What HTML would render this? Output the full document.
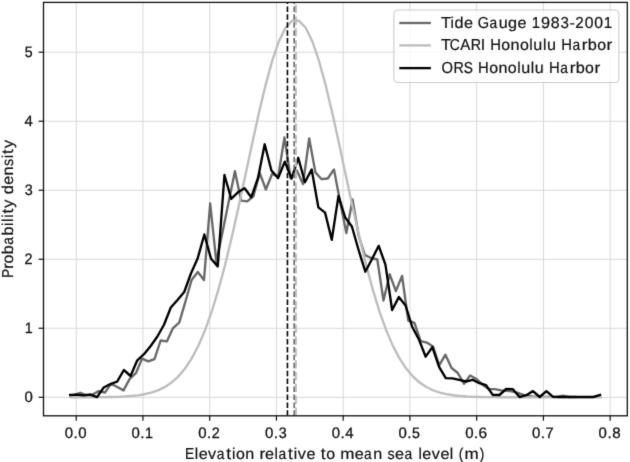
<!DOCTYPE html><html><head><meta charset="utf-8"><style>html,body{margin:0;padding:0;background:#fff;}svg{display:block;filter:grayscale(1);}text{text-rendering:geometricPrecision;font-family:"Liberation Sans",sans-serif;fill:#111;stroke:#111;}</style></head><body>
<svg width="630" height="462" viewBox="0 0 630 462">
<rect x="0" y="0" width="630" height="462" fill="#fff"/>
<defs><filter id="bl" color-interpolation-filters="sRGB" x="0" y="0" width="630" height="462" filterUnits="userSpaceOnUse"><feConvolveMatrix order="3" kernelMatrix="0.01134 0.08382 0.01134 0.08382 0.61935 0.08382 0.01134 0.08382 0.01134" divisor="1" edgeMode="none" preserveAlpha="false"/></filter></defs>
<g filter="url(#bl)">
<defs><clipPath id="ax"><rect x="43.5" y="2.4" width="583.8" height="413.40000000000003"/></clipPath></defs>
<g stroke="#d8d8d8" stroke-width="1" fill="none"><line x1="76.21" y1="2.4" x2="76.21" y2="415.8"/><line x1="142.95" y1="2.4" x2="142.95" y2="415.8"/><line x1="209.70" y1="2.4" x2="209.70" y2="415.8"/><line x1="276.44" y1="2.4" x2="276.44" y2="415.8"/><line x1="343.19" y1="2.4" x2="343.19" y2="415.8"/><line x1="409.93" y1="2.4" x2="409.93" y2="415.8"/><line x1="476.67" y1="2.4" x2="476.67" y2="415.8"/><line x1="543.42" y1="2.4" x2="543.42" y2="415.8"/><line x1="610.16" y1="2.4" x2="610.16" y2="415.8"/><line x1="43.5" y1="397.30" x2="627.3" y2="397.30"/><line x1="43.5" y1="328.28" x2="627.3" y2="328.28"/><line x1="43.5" y1="259.26" x2="627.3" y2="259.26"/><line x1="43.5" y1="190.24" x2="627.3" y2="190.24"/><line x1="43.5" y1="121.22" x2="627.3" y2="121.22"/><line x1="43.5" y1="52.20" x2="627.3" y2="52.20"/></g>
<g clip-path="url(#ax)" fill="none" stroke-linejoin="round" stroke-linecap="square">
<polyline points="73.99,395.00 80.18,392.80 86.37,395.00 92.56,394.50 98.75,391.10 104.94,392.60 111.13,383.70 117.32,387.00 123.51,390.40 129.70,378.90 135.89,373.20 142.08,358.60 148.27,361.40 154.46,359.10 160.65,340.50 166.84,341.40 173.03,328.10 179.22,322.70 185.41,301.60 191.60,280.00 197.79,272.00 203.98,280.00 210.17,203.50 216.36,262.00 222.55,232.00 228.74,201.60 234.93,171.20 241.12,200.60 247.31,201.40 253.50,196.00 259.69,172.90 265.88,189.50 272.07,174.00 278.26,176.30 284.45,137.40 290.64,178.30 296.83,170.50 303.02,184.10 309.21,138.50 315.40,172.40 321.59,179.20 327.78,178.50 333.97,169.40 340.16,202.00 346.35,233.00 352.54,199.50 358.73,236.00 364.92,255.00 371.11,258.00 377.30,259.50 383.49,300.50 389.68,274.20 395.87,291.10 402.06,275.90 408.25,320.60 414.44,322.90 420.63,341.10 426.82,342.60 433.01,346.40 439.20,365.30 445.39,354.70 451.58,368.00 457.77,373.00 463.96,383.70 470.15,375.40 476.34,378.90 482.53,384.70 488.72,389.00 494.91,389.20 501.10,390.40 507.29,390.80 513.48,391.70 519.67,393.50 525.86,395.50 532.05,396.30 538.24,396.60 544.43,396.80 550.62,396.80 556.81,396.80 563.00,395.70 569.19,397.00 575.38,397.00" stroke="#686868" stroke-width="2.35"/>
<polyline points="70.60,397.29 77.31,397.28 84.02,397.27 90.74,397.25 97.45,397.20 104.16,397.13 110.87,397.01 117.58,396.82 124.30,396.52 131.01,396.04 137.72,395.32 144.43,394.23 151.14,392.64 157.86,390.36 164.57,387.15 171.28,382.74 177.99,376.80 184.70,368.98 191.42,358.92 198.13,346.25 204.84,330.69 211.55,312.02 218.26,290.17 224.98,265.24 231.69,237.58 238.40,207.76 245.11,176.59 251.82,145.13 258.54,114.60 265.25,86.34 271.96,61.67 278.67,41.87 285.38,27.97 292.10,20.73 298.81,20.58 305.52,27.51 312.23,41.13 318.94,60.71 325.66,85.18 332.37,113.32 339.08,143.78 345.79,175.22 352.50,206.43 359.22,236.33 365.93,264.10 372.64,289.15 379.35,311.14 386.06,329.95 392.78,345.64 399.49,358.42 406.20,368.59 412.91,376.50 419.62,382.51 426.34,386.98 433.05,390.24 439.76,392.56 446.47,394.18 453.18,395.28 459.90,396.02 466.61,396.50 473.32,396.81 480.03,397.01 486.74,397.13 493.46,397.20 500.17,397.24 506.88,397.27 513.59,397.28 520.30,397.29 527.02,397.30 533.73,397.30 540.44,397.30 547.15,397.30 553.86,397.30 560.58,397.30 567.29,397.30 574.00,397.30 580.71,397.30 587.42,397.30 594.14,397.30 600.85,397.30" stroke="#bdbdbd" stroke-width="2.35"/>
<polyline points="70.20,394.90 76.91,394.60 83.61,395.30 90.32,394.70 97.03,397.10 103.73,387.50 110.44,384.00 117.15,381.60 123.86,370.00 130.56,376.00 137.27,360.30 143.98,354.20 150.68,346.00 157.39,336.50 164.10,324.50 170.81,307.50 177.51,300.00 184.22,292.00 190.93,273.50 197.63,258.50 204.34,234.50 211.05,258.80 217.75,266.40 224.46,175.00 231.17,198.80 237.88,192.30 244.58,188.20 251.29,197.30 258.00,178.00 264.70,144.30 271.41,170.50 278.12,178.10 284.82,161.60 291.53,178.60 298.24,157.80 304.94,182.30 311.65,169.50 318.36,207.30 325.07,212.60 331.77,239.80 338.48,195.90 345.19,217.50 351.89,226.50 358.60,250.00 365.31,271.70 372.01,259.00 378.72,245.90 385.43,264.60 392.14,310.00 398.84,297.10 405.55,305.50 412.26,327.00 418.96,339.50 425.67,356.70 432.38,347.10 439.08,366.80 445.79,378.10 452.50,378.40 459.21,379.80 465.91,381.50 472.62,379.80 479.33,383.20 486.03,385.20 492.74,394.90 499.45,395.00 506.15,389.00 512.86,389.20 519.57,397.00 526.28,395.20 532.98,391.10 539.69,397.00 546.40,391.10 553.10,396.90 559.81,397.00 566.52,397.00 573.23,397.00 579.93,397.00 586.64,397.00 593.35,397.00 600.05,395.00" stroke="#000000" stroke-width="2.35"/>
<line x1="294.2" y1="415.8" x2="294.2" y2="2.4" stroke="#686868" stroke-width="1.6" stroke-linecap="butt" stroke-dasharray="5.5 2.42"/>
<line x1="295.9" y1="415.8" x2="295.9" y2="2.4" stroke="#bdbdbd" stroke-width="2.0" stroke-linecap="butt" stroke-dasharray="8.25 3.6"/>
<line x1="287.45" y1="415.8" x2="287.45" y2="2.4" stroke="#000" stroke-width="1.6" stroke-linecap="butt" stroke-dasharray="5.5 2.42"/>
</g>
<rect x="43.5" y="2.4" width="583.80" height="413.40" fill="none" stroke="#111" stroke-width="1.3"/>
<g stroke="#111" stroke-width="1.2"><line x1="76.21" y1="415.8" x2="76.21" y2="420.7"/><line x1="142.95" y1="415.8" x2="142.95" y2="420.7"/><line x1="209.70" y1="415.8" x2="209.70" y2="420.7"/><line x1="276.44" y1="415.8" x2="276.44" y2="420.7"/><line x1="343.19" y1="415.8" x2="343.19" y2="420.7"/><line x1="409.93" y1="415.8" x2="409.93" y2="420.7"/><line x1="476.67" y1="415.8" x2="476.67" y2="420.7"/><line x1="543.42" y1="415.8" x2="543.42" y2="420.7"/><line x1="610.16" y1="415.8" x2="610.16" y2="420.7"/><line x1="38.6" y1="397.30" x2="43.5" y2="397.30"/><line x1="38.6" y1="328.28" x2="43.5" y2="328.28"/><line x1="38.6" y1="259.26" x2="43.5" y2="259.26"/><line x1="38.6" y1="190.24" x2="43.5" y2="190.24"/><line x1="38.6" y1="121.22" x2="43.5" y2="121.22"/><line x1="38.6" y1="52.20" x2="43.5" y2="52.20"/></g>
<g style="stroke-width:0.28px"><text transform="translate(64.67,438.00) scale(1.054,1.063)" font-size="14.20">0</text><text transform="translate(73.47,438.00) scale(1.082,1.000)" font-size="14.20">.</text><text transform="translate(78.22,438.00) scale(1.054,1.063)" font-size="14.20">0</text></g>
<g style="stroke-width:0.28px"><text transform="translate(131.42,438.00) scale(1.054,1.063)" font-size="14.20">0</text><text transform="translate(140.21,438.00) scale(1.082,1.000)" font-size="14.20">.</text><text transform="translate(145.08,438.00) scale(1.007,1.060)" font-size="14.20">1</text></g>
<g style="stroke-width:0.28px"><text transform="translate(198.16,438.00) scale(1.054,1.063)" font-size="14.20">0</text><text transform="translate(206.96,438.00) scale(1.082,1.000)" font-size="14.20">.</text><text transform="translate(211.67,438.00) scale(1.016,1.063)" font-size="14.20">2</text></g>
<g style="stroke-width:0.28px"><text transform="translate(264.90,438.00) scale(1.054,1.063)" font-size="14.20">0</text><text transform="translate(273.70,438.00) scale(1.082,1.000)" font-size="14.20">.</text><text transform="translate(278.64,438.00) scale(1.012,1.063)" font-size="14.20">3</text></g>
<g style="stroke-width:0.28px"><text transform="translate(331.65,438.00) scale(1.054,1.063)" font-size="14.20">0</text><text transform="translate(340.45,438.00) scale(1.082,1.000)" font-size="14.20">.</text><text transform="translate(345.20,438.00) scale(1.054,1.060)" font-size="14.20">4</text></g>
<g style="stroke-width:0.28px"><text transform="translate(398.39,438.00) scale(1.054,1.063)" font-size="14.20">0</text><text transform="translate(407.19,438.00) scale(1.082,1.000)" font-size="14.20">.</text><text transform="translate(412.12,438.00) scale(0.995,1.060)" font-size="14.20">5</text></g>
<g style="stroke-width:0.28px"><text transform="translate(465.14,438.00) scale(1.054,1.063)" font-size="14.20">0</text><text transform="translate(473.93,438.00) scale(1.082,1.000)" font-size="14.20">.</text><text transform="translate(478.54,438.00) scale(1.091,1.063)" font-size="14.20">6</text></g>
<g style="stroke-width:0.28px"><text transform="translate(531.88,438.00) scale(1.054,1.063)" font-size="14.20">0</text><text transform="translate(540.68,438.00) scale(1.082,1.000)" font-size="14.20">.</text><text transform="translate(545.49,438.00) scale(1.031,1.060)" font-size="14.20">7</text></g>
<g style="stroke-width:0.28px"><text transform="translate(598.62,438.00) scale(1.054,1.063)" font-size="14.20">0</text><text transform="translate(607.42,438.00) scale(1.082,1.000)" font-size="14.20">.</text><text transform="translate(612.13,438.00) scale(1.066,1.063)" font-size="14.20">8</text></g>
<g style="stroke-width:0.28px"><text transform="translate(24.62,402.15) scale(1.054,1.063)" font-size="14.20">0</text></g>
<g style="stroke-width:0.28px"><text transform="translate(24.74,333.13) scale(1.007,1.060)" font-size="14.20">1</text></g>
<g style="stroke-width:0.28px"><text transform="translate(24.58,264.11) scale(1.016,1.063)" font-size="14.20">2</text></g>
<g style="stroke-width:0.28px"><text transform="translate(24.80,195.09) scale(1.012,1.063)" font-size="14.20">3</text></g>
<g style="stroke-width:0.28px"><text transform="translate(24.62,126.07) scale(1.054,1.060)" font-size="14.20">4</text></g>
<g style="stroke-width:0.28px"><text transform="translate(24.80,57.05) scale(0.995,1.060)" font-size="14.20">5</text></g>
<g style="stroke-width:0.2px"><text transform="translate(185.05,459.10) scale(0.920,1.060)" font-size="14.95">E</text><text transform="translate(194.76,459.10) scale(1.022,1.049)" font-size="14.95">l</text><text transform="translate(198.67,459.10) scale(1.080,1.041)" font-size="14.95">e</text><text transform="translate(208.12,459.10) scale(1.079,1.035)" font-size="14.95">v</text><text transform="translate(216.81,459.10) scale(0.920,1.041)" font-size="14.95">a</text><text transform="translate(226.23,459.10) scale(1.150,1.086)" font-size="14.95">t</text><text transform="translate(231.98,459.10) scale(1.022,1.049)" font-size="14.95">i</text><text transform="translate(235.91,459.10) scale(1.063,1.041)" font-size="14.95">o</text><text transform="translate(245.19,459.10) scale(1.078,1.041)" font-size="14.95">n</text><text transform="translate(259.59,459.10) scale(1.150,1.041)" font-size="14.95">r</text><text transform="translate(265.08,459.10) scale(1.080,1.041)" font-size="14.95">e</text><text transform="translate(274.52,459.10) scale(1.022,1.049)" font-size="14.95">l</text><text transform="translate(278.53,459.10) scale(0.920,1.041)" font-size="14.95">a</text><text transform="translate(287.95,459.10) scale(1.150,1.086)" font-size="14.95">t</text><text transform="translate(293.70,459.10) scale(1.022,1.049)" font-size="14.95">i</text><text transform="translate(297.86,459.10) scale(1.079,1.035)" font-size="14.95">v</text><text transform="translate(306.46,459.10) scale(1.080,1.041)" font-size="14.95">e</text><text transform="translate(320.77,459.10) scale(1.150,1.086)" font-size="14.95">t</text><text transform="translate(326.29,459.10) scale(1.063,1.041)" font-size="14.95">o</text><text transform="translate(340.26,459.10) scale(1.139,1.041)" font-size="14.95">m</text><text transform="translate(354.73,459.10) scale(1.080,1.041)" font-size="14.95">e</text><text transform="translate(364.02,459.10) scale(0.920,1.041)" font-size="14.95">a</text><text transform="translate(373.24,459.10) scale(1.078,1.041)" font-size="14.95">n</text><text transform="translate(387.59,459.10) scale(0.959,1.044)" font-size="14.95">s</text><text transform="translate(395.11,459.10) scale(1.080,1.041)" font-size="14.95">e</text><text transform="translate(404.40,459.10) scale(0.920,1.041)" font-size="14.95">a</text><text transform="translate(418.46,459.10) scale(1.022,1.049)" font-size="14.95">l</text><text transform="translate(422.37,459.10) scale(1.080,1.041)" font-size="14.95">e</text><text transform="translate(431.82,459.10) scale(1.079,1.035)" font-size="14.95">v</text><text transform="translate(440.42,459.10) scale(1.080,1.041)" font-size="14.95">e</text><text transform="translate(449.85,459.10) scale(1.022,1.049)" font-size="14.95">l</text><text transform="translate(458.66,459.10) scale(0.920,1.047)" font-size="14.95">(</text><text transform="translate(464.44,459.10) scale(1.139,1.041)" font-size="14.95">m</text><text transform="translate(479.74,459.10) scale(0.920,1.047)" font-size="14.95">)</text></g>
<g style="stroke-width:0.2px"><text transform="rotate(-90) translate(-278.07,13.40) scale(0.920,1.060)" font-size="14.95">P</text><text transform="rotate(-90) translate(-269.06,13.40) scale(1.150,1.041)" font-size="14.95">r</text><text transform="rotate(-90) translate(-263.54,13.40) scale(1.063,1.041)" font-size="14.95">o</text><text transform="rotate(-90) translate(-254.24,13.40) scale(1.088,1.049)" font-size="14.95">b</text><text transform="rotate(-90) translate(-244.83,13.40) scale(0.920,1.041)" font-size="14.95">a</text><text transform="rotate(-90) translate(-235.59,13.40) scale(1.088,1.049)" font-size="14.95">b</text><text transform="rotate(-90) translate(-226.03,13.40) scale(1.022,1.049)" font-size="14.95">i</text><text transform="rotate(-90) translate(-221.88,13.40) scale(1.022,1.049)" font-size="14.95">l</text><text transform="rotate(-90) translate(-217.72,13.40) scale(1.022,1.049)" font-size="14.95">i</text><text transform="rotate(-90) translate(-213.45,13.40) scale(1.150,1.086)" font-size="14.95">t</text><text transform="rotate(-90) translate(-207.68,13.40) scale(1.074,1.035)" font-size="14.95">y</text><text transform="rotate(-90) translate(-194.35,13.40) scale(1.087,1.049)" font-size="14.95">d</text><text transform="rotate(-90) translate(-184.86,13.40) scale(1.080,1.041)" font-size="14.95">e</text><text transform="rotate(-90) translate(-175.52,13.40) scale(1.078,1.041)" font-size="14.95">n</text><text transform="rotate(-90) translate(-165.92,13.40) scale(0.959,1.044)" font-size="14.95">s</text><text transform="rotate(-90) translate(-158.15,13.40) scale(1.022,1.049)" font-size="14.95">i</text><text transform="rotate(-90) translate(-153.89,13.40) scale(1.150,1.086)" font-size="14.95">t</text><text transform="rotate(-90) translate(-148.12,13.40) scale(1.074,1.035)" font-size="14.95">y</text></g>
<rect x="393.9" y="10.0" width="225.0" height="72.5" rx="4" ry="4" fill="#fff" fill-opacity="0.8" stroke="#cccccc" stroke-width="1.1"/>
<line x1="399.3" y1="23.0" x2="430.9" y2="23.0" stroke="#686868" stroke-width="2.35"/>
<g style="stroke-width:0.2px"><text transform="translate(441.04,27.50) scale(1.091,1.060)" font-size="14.95">T</text><text transform="translate(450.51,27.50) scale(1.022,1.049)" font-size="14.95">i</text><text transform="translate(454.42,27.50) scale(1.087,1.049)" font-size="14.95">d</text><text transform="translate(463.90,27.50) scale(1.080,1.041)" font-size="14.95">e</text><text transform="translate(477.82,27.50) scale(0.975,1.063)" font-size="14.95">G</text><text transform="translate(489.53,27.50) scale(0.920,1.041)" font-size="14.95">a</text><text transform="translate(498.68,27.50) scale(1.078,1.060)" font-size="14.95">u</text><text transform="translate(508.08,27.50) scale(1.087,1.044)" font-size="14.95">g</text><text transform="translate(517.57,27.50) scale(1.080,1.041)" font-size="14.95">e</text><text transform="translate(531.87,27.50) scale(1.007,1.060)" font-size="14.95">1</text><text transform="translate(541.07,27.50) scale(1.089,1.063)" font-size="14.95">9</text><text transform="translate(550.72,27.50) scale(1.066,1.063)" font-size="14.95">8</text><text transform="translate(560.47,27.50) scale(1.012,1.063)" font-size="14.95">3</text><text transform="translate(569.44,27.50) scale(1.078,1.030)" font-size="14.95">-</text><text transform="translate(575.15,27.50) scale(1.016,1.063)" font-size="14.95">2</text><text transform="translate(584.70,27.50) scale(1.054,1.063)" font-size="14.95">0</text><text transform="translate(594.21,27.50) scale(1.054,1.063)" font-size="14.95">0</text><text transform="translate(603.85,27.50) scale(1.007,1.060)" font-size="14.95">1</text></g>
<line x1="399.3" y1="45.4" x2="430.9" y2="45.4" stroke="#bdbdbd" stroke-width="2.35"/>
<g style="stroke-width:0.2px"><text transform="translate(441.04,50.20) scale(1.091,1.060)" font-size="14.95">T</text><text transform="translate(449.84,50.20) scale(0.928,1.063)" font-size="14.95">C</text><text transform="translate(460.23,50.20) scale(1.007,1.060)" font-size="14.95">A</text><text transform="translate(470.67,50.20) scale(0.956,1.060)" font-size="14.95">R</text><text transform="translate(480.77,50.20) scale(1.058,1.060)" font-size="14.95">I</text><text transform="translate(490.17,50.20) scale(0.995,1.060)" font-size="14.95">H</text><text transform="translate(501.32,50.20) scale(1.063,1.041)" font-size="14.95">o</text><text transform="translate(510.60,50.20) scale(1.078,1.041)" font-size="14.95">n</text><text transform="translate(519.94,50.20) scale(1.063,1.041)" font-size="14.95">o</text><text transform="translate(529.31,50.20) scale(1.022,1.049)" font-size="14.95">l</text><text transform="translate(533.31,50.20) scale(1.078,1.060)" font-size="14.95">u</text><text transform="translate(542.94,50.20) scale(1.022,1.049)" font-size="14.95">l</text><text transform="translate(546.94,50.20) scale(1.078,1.060)" font-size="14.95">u</text><text transform="translate(561.19,50.20) scale(0.995,1.060)" font-size="14.95">H</text><text transform="translate(572.42,50.20) scale(0.920,1.041)" font-size="14.95">a</text><text transform="translate(581.80,50.20) scale(1.150,1.041)" font-size="14.95">r</text><text transform="translate(587.80,50.20) scale(1.088,1.049)" font-size="14.95">b</text><text transform="translate(597.14,50.20) scale(1.063,1.041)" font-size="14.95">o</text><text transform="translate(606.59,50.20) scale(1.150,1.041)" font-size="14.95">r</text></g>
<line x1="399.3" y1="68.1" x2="430.9" y2="68.1" stroke="#000000" stroke-width="2.35"/>
<g style="stroke-width:0.2px"><text transform="translate(441.59,72.60) scale(0.989,1.063)" font-size="14.95">O</text><text transform="translate(453.51,72.60) scale(0.956,1.060)" font-size="14.95">R</text><text transform="translate(463.84,72.60) scale(0.920,1.063)" font-size="14.95">S</text><text transform="translate(478.09,72.60) scale(0.995,1.060)" font-size="14.95">H</text><text transform="translate(489.25,72.60) scale(1.063,1.041)" font-size="14.95">o</text><text transform="translate(498.52,72.60) scale(1.078,1.041)" font-size="14.95">n</text><text transform="translate(507.87,72.60) scale(1.063,1.041)" font-size="14.95">o</text><text transform="translate(517.24,72.60) scale(1.022,1.049)" font-size="14.95">l</text><text transform="translate(521.23,72.60) scale(1.078,1.060)" font-size="14.95">u</text><text transform="translate(530.86,72.60) scale(1.022,1.049)" font-size="14.95">l</text><text transform="translate(534.86,72.60) scale(1.078,1.060)" font-size="14.95">u</text><text transform="translate(549.11,72.60) scale(0.995,1.060)" font-size="14.95">H</text><text transform="translate(560.34,72.60) scale(0.920,1.041)" font-size="14.95">a</text><text transform="translate(569.73,72.60) scale(1.150,1.041)" font-size="14.95">r</text><text transform="translate(575.73,72.60) scale(1.088,1.049)" font-size="14.95">b</text><text transform="translate(585.06,72.60) scale(1.063,1.041)" font-size="14.95">o</text><text transform="translate(594.51,72.60) scale(1.150,1.041)" font-size="14.95">r</text></g>
</g></svg></body></html>
